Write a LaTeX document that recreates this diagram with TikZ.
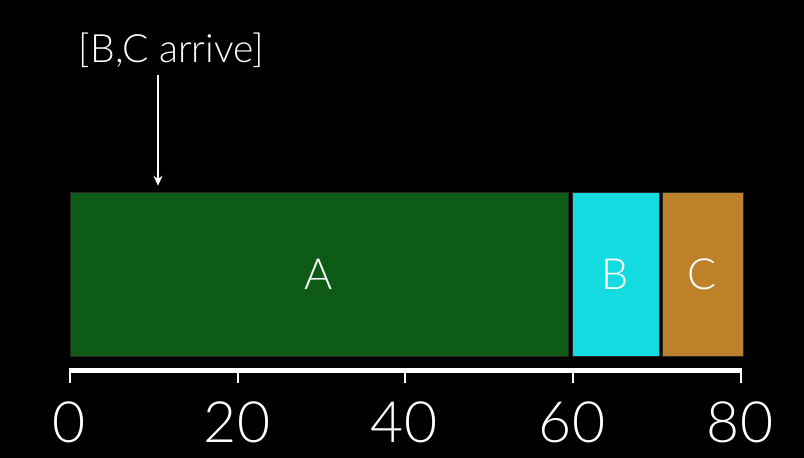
\documentclass[tikz,border=0pt]{standalone}
\usepackage{fontspec}
\setmainfont{Lato Light}
\usetikzlibrary{arrows.meta}
\definecolor{barA}{HTML}{0D5B14}
\definecolor{barB}{HTML}{14DBE0}
\definecolor{barC}{HTML}{BC8129}
\begin{document}
\begin{tikzpicture}[x=1pt,y=-1pt,
  bar/.style={draw=black!85, line width=0.5pt, inner sep=0pt, minimum height=164pt, text=white, font=\fontsize{43}{43}\selectfont},
  axisline/.style={white, line width=5pt},
  tickmark/.style={white, line width=2.6pt},
  ticklabel/.style={text=white, anchor=base, inner sep=0pt, font=\fontsize{57}{57}\selectfont}]
\fill[black] (0,0) rectangle (804,458);
\useasboundingbox (0,0) rectangle (804,458);
% bars
\node[bar, fill=barA, minimum width=498pt] (A) at (319,274) {A};
\node[bar, fill=barB, minimum width=87pt] (B) at (615.5,274) {B};
\node[bar, fill=barC, minimum width=81pt] (C) at (702.5,274) {C};
% label and arrow
\node[text=white, anchor=base, inner sep=0pt, font=\fontsize{39}{39}\selectfont] (lbl) at (171.5,62) {[B,C arrive]};
\coordinate (arrtop) at (158,75);
\draw[white, line width=1.2pt, -{Stealth[length=10pt,width=9pt]}, shorten >=6pt] (arrtop) -- (arrtop |- A.north);
% axis
\coordinate (ax0) at (70,370);
\coordinate (ax80) at (741,370);
\draw[axisline] ([xshift=-1.3pt]ax0) -- ([xshift=1.3pt]ax80);
\foreach \x/\v in {70/0,238/20,405/40,573/60,741/80}{
  \coordinate (t\v) at (\x,370);
  \draw[tickmark] (t\v) -- ++(0,13);
  \node[ticklabel] (l\v) at (\x-1,442) {\v};
}
\end{tikzpicture}
\end{document}
